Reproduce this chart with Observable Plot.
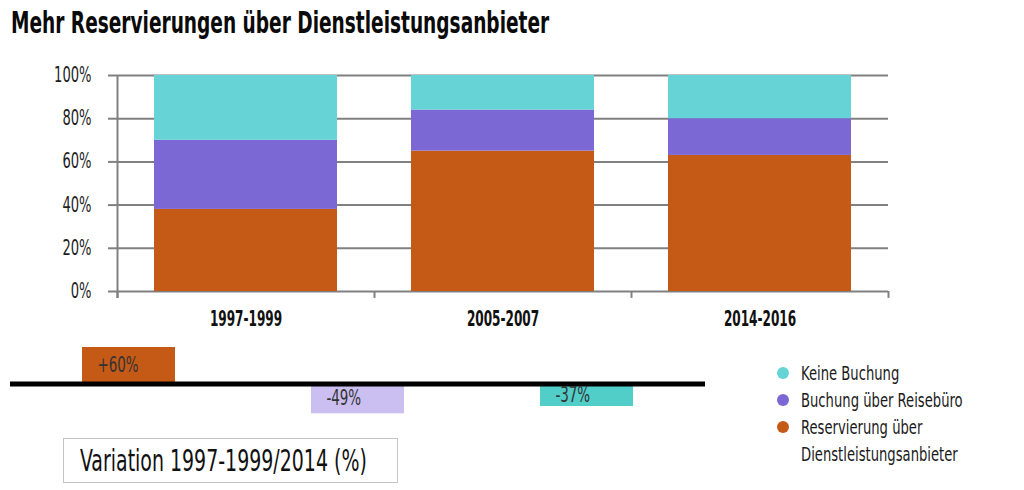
<!DOCTYPE html>
<html>
<head>
<meta charset="utf-8">
<script src="https://cdn.jsdelivr.net/npm/d3@7"></script>
<script src="https://cdn.jsdelivr.net/npm/@observablehq/plot@0.6"></script>
<style>
  html, body { margin: 0; padding: 0; background: #fff; }
  body { width: 1024px; height: 490px; overflow: hidden; }
  #wrap { position: relative; width: 1024px; height: 490px; font-family: "DejaVu Sans Condensed", "DejaVu Sans", sans-serif; color: #111; }
  #title { position: absolute; left: 11px; top: 4px; font-size: 31px; line-height: 36px; font-weight: bold; white-space: nowrap; color: #0a0a0a; }
  #chart1 { position: absolute; left: 0; top: 0; }
  #chart2 { position: absolute; left: 0; top: 330px; }
  #box { position: absolute; left: 63px; top: 438px; width: 335px; height: 45px; border: 1.5px solid #c4c4c4; box-sizing: border-box; font-size: 31px; line-height: 42px; padding-left: 15.5px; color: #111; white-space: nowrap; }
  #legend { position: absolute; left: 776px; top: 360px; font-size: 19px; color: #1a1a1a; }
  .row { position: relative; padding-left: 25px; line-height: 27px; height: 27px; white-space: nowrap; }
  .dot { position: absolute; left: 1px; top: 7px; width: 12px; height: 12px; border-radius: 50%; }
  .sq { display: inline-block; transform-origin: 0 50%; }
</style>
</head>
<body>
<div id="wrap">
  <div id="chart1"></div>
  <div id="chart2"></div>
  <div id="title"></div>
  <div id="box"></div>
  <div id="legend"></div>
</div>
<script>
const titleText = "Mehr Reservierungen über Dienstleistungsanbieter";
const periods = ["1997-1999", "2005-2007", "2014-2016"];
const categories = ["Reservierung über Dienstleistungsanbieter", "Buchung über Reisebüro", "Keine Buchung"];
const reservierung = [38, 65, 63];
const reisebuero = [32, 19, 17];
const keineBuchung = [30, 16, 20];
const colors = ["#c55a17", "#7b68d4", "#66d3d6"];
const yTicks = [0, 20, 40, 60, 80, 100];
const variationTitle = "Variation 1997-1999/2014 (%)";
const variation = [60, -49, -37];
const variationLabels = ["+60%", "-49%", "-37%"];
const variationColors = ["#c55a17", "#cbbff2", "#52cec9"];
const legendLines = [["Keine Buchung"], ["Buchung über Reisebüro"], ["Reservierung über", "Dienstleistungsanbieter"]];
const legendColors = ["#66d3d6", "#7b68d4", "#c55a17"];

const font = '"DejaVu Sans Condensed", "DejaVu Sans", sans-serif';
const series = [reservierung, reisebuero, keineBuchung];
const rows = [];
periods.forEach((p, i) => categories.forEach((c, j) => rows.push({period: p, category: c, value: series[j][i]})));

// horizontal squeeze helpers (the reference uses a condensed face)
function squeezeSvg(svg, selector, f) {
  svg.querySelectorAll(selector).forEach(t => {
    const L = t.getComputedTextLength();
    t.setAttribute("textLength", (L * f).toFixed(2));
    t.setAttribute("lengthAdjust", "spacingAndGlyphs");
  });
}
function sqSpan(text, f) {
  const s = document.createElement("span");
  s.className = "sq";
  s.style.transform = `scaleX(${f})`;
  s.textContent = text;
  return s;
}

const W = 1024, ML = 117, MR = 136;
const step1 = (W - ML - MR) / periods.length;
const gray = "#808080";

const chart1 = Plot.plot({
  width: W, height: 340,
  marginLeft: ML, marginRight: MR, marginTop: 75, marginBottom: 49,
  style: {fontFamily: font, background: "transparent", overflow: "visible"},
  x: {domain: periods, paddingInner: 0.288, paddingOuter: 0.144, axis: null},
  y: {domain: [0, 100], axis: null},
  color: {domain: categories, range: colors},
  marks: [
    Plot.ruleY(yTicks, {stroke: gray, strokeWidth: 2}),
    Plot.axisY({ticks: yTicks, tickSize: 9, tickPadding: 17, stroke: gray, strokeWidth: 2, strokeOpacity: 1, tickFormat: d => d + "%", fontSize: 20.5, fill: "#1e1e1e", label: null}),
    Plot.barY(rows, {x: "period", y: "value", fill: "category", order: categories}),
    Plot.ruleX(periods, {x: d => d, dx: -step1 / 2, y1: -3.2, y2: 0, stroke: gray, strokeWidth: 2}),
    Plot.ruleX(periods.slice(-1), {x: d => d, dx: step1 / 2, y1: -3.2, y2: 0, stroke: gray, strokeWidth: 2}),
    Plot.ruleX(periods.slice(0, 1), {x: d => d, dx: -step1 / 2, y1: -3.2, y2: 100, stroke: gray, strokeWidth: 2}),
    Plot.axisX({tickSize: 0, tickPadding: 19, fontSize: 22, fontWeight: "bold", fill: "#111", label: null})
  ]
});
document.getElementById("chart1").append(chart1);
squeezeSvg(chart1, 'g[aria-label="y-axis tick label"] text', 0.71);
squeezeSvg(chart1, 'g[aria-label="x-axis tick label"] text', 0.61);

const vrows = categories.map((c, i) => ({category: c, value: variation[i], label: variationLabels[i]}));
const W2 = 720, ML2 = 10, MR2 = W2 - 705;
const pi2 = 0.594, po2 = 0.31;
const step2 = (W2 - ML2 - MR2) / (categories.length - pi2 + 2 * po2);
const bw2 = step2 * (1 - pi2);

const chart2 = Plot.plot({
  width: W2, height: 110,
  marginLeft: ML2, marginRight: MR2, marginTop: 17, marginBottom: 20,
  style: {fontFamily: font, background: "transparent", overflow: "visible"},
  x: {domain: categories, paddingInner: pi2, paddingOuter: po2, axis: null},
  y: {domain: [-60, 60], axis: null},
  color: {domain: categories, range: variationColors},
  marks: [
    Plot.barY(vrows, {x: "category", y: "value", fill: "category"}),
    Plot.ruleY([0], {stroke: "#000", strokeWidth: 5}),
    Plot.text(vrows, {x: "category", y: d => d.value / 2, text: "label", textAnchor: "start", dx: -bw2 / 2 + 15, fontSize: 20.5, fill: "#333"})
  ]
});
document.getElementById("chart2").append(chart2);
squeezeSvg(chart2, 'g[aria-label="text"] text', 0.73);

document.getElementById("title").append(sqSpan(titleText, 0.665));
document.getElementById("box").append(sqSpan(variationTitle, 0.68));
const legend = document.getElementById("legend");
legendLines.forEach((lines, i) => {
  lines.forEach((t, k) => {
    const r = document.createElement("div");
    r.className = "row";
    if (k === 0) {
      const d = document.createElement("span");
      d.className = "dot";
      d.style.background = legendColors[i];
      r.append(d);
    }
    r.append(sqSpan(t, 0.77));
    legend.append(r);
  });
});
</script>
</body>
</html>
